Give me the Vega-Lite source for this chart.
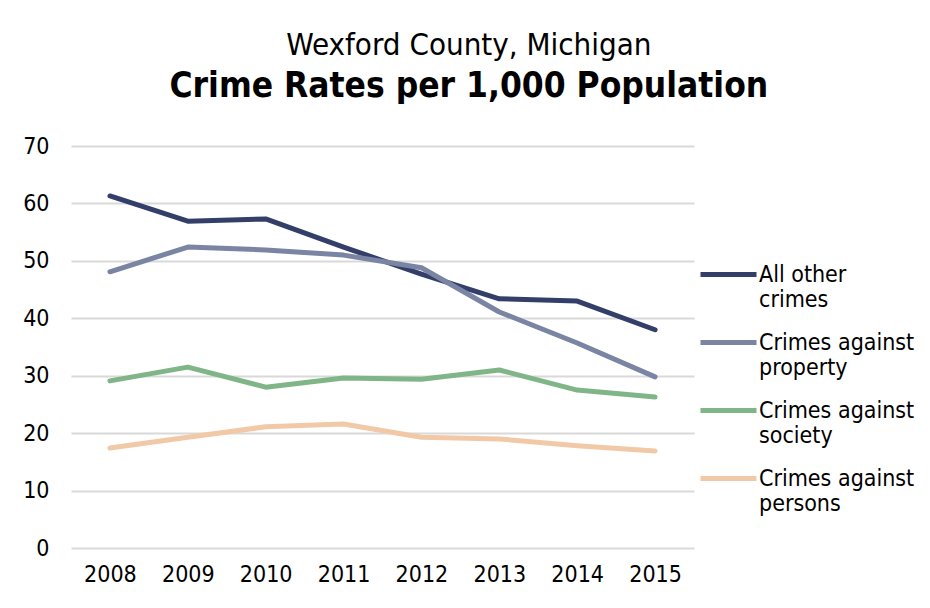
{
  "$schema": "https://vega.github.io/schema/vega-lite/v6.json",
  "width": 623,
  "height": 402,
  "padding": {"left": 22, "top": 30, "right": 10, "bottom": 10},
  "background": "white",
  "title": {
    "text": "Wexford County, Michigan",
    "subtitle": "Crime Rates per 1,000 Population",
    "font": "DejaVu Sans Condensed, DejaVu Sans",
    "fontSize": 31,
    "fontWeight": "normal",
    "color": "#000000",
    "subtitleFont": "DejaVu Sans Condensed, DejaVu Sans",
    "subtitleFontSize": 35,
    "subtitleFontWeight": "bold",
    "subtitleColor": "#000000",
    "subtitlePadding": 7,
    "offset": 30,
    "anchor": "middle",
    "frame": "bounds"
  },
  "config": {
    "view": {"stroke": null},
    "font": "DejaVu Sans Condensed, DejaVu Sans"
  },
  "data": {
    "values": [
      {"year": "2008", "series": "All other crimes", "rate": 61.3},
      {"year": "2009", "series": "All other crimes", "rate": 56.9},
      {"year": "2010", "series": "All other crimes", "rate": 57.3},
      {"year": "2011", "series": "All other crimes", "rate": 52.4},
      {"year": "2012", "series": "All other crimes", "rate": 47.7},
      {"year": "2013", "series": "All other crimes", "rate": 43.4},
      {"year": "2014", "series": "All other crimes", "rate": 43.0},
      {"year": "2015", "series": "All other crimes", "rate": 38.0},
      {"year": "2008", "series": "Crimes against property", "rate": 48.1},
      {"year": "2009", "series": "Crimes against property", "rate": 52.4},
      {"year": "2010", "series": "Crimes against property", "rate": 51.9},
      {"year": "2011", "series": "Crimes against property", "rate": 51.0},
      {"year": "2012", "series": "Crimes against property", "rate": 48.8},
      {"year": "2013", "series": "Crimes against property", "rate": 41.1},
      {"year": "2014", "series": "Crimes against property", "rate": 35.7},
      {"year": "2015", "series": "Crimes against property", "rate": 29.8},
      {"year": "2008", "series": "Crimes against society", "rate": 29.1},
      {"year": "2009", "series": "Crimes against society", "rate": 31.5},
      {"year": "2010", "series": "Crimes against society", "rate": 28.0},
      {"year": "2011", "series": "Crimes against society", "rate": 29.6},
      {"year": "2012", "series": "Crimes against society", "rate": 29.4},
      {"year": "2013", "series": "Crimes against society", "rate": 31.0},
      {"year": "2014", "series": "Crimes against society", "rate": 27.5},
      {"year": "2015", "series": "Crimes against society", "rate": 26.3},
      {"year": "2008", "series": "Crimes against persons", "rate": 17.4},
      {"year": "2009", "series": "Crimes against persons", "rate": 19.3},
      {"year": "2010", "series": "Crimes against persons", "rate": 21.1},
      {"year": "2011", "series": "Crimes against persons", "rate": 21.6},
      {"year": "2012", "series": "Crimes against persons", "rate": 19.3},
      {"year": "2013", "series": "Crimes against persons", "rate": 19.0},
      {"year": "2014", "series": "Crimes against persons", "rate": 17.8},
      {"year": "2015", "series": "Crimes against persons", "rate": 16.9}
    ]
  },
  "mark": {"type": "line", "strokeWidth": 5, "strokeCap": "round", "strokeJoin": "round"},
  "encoding": {
    "x": {
      "field": "year",
      "type": "ordinal",
      "scale": {"type": "point", "padding": 0.5},
      "axis": {
        "title": null,
        "labelAngle": 0,
        "labelFontSize": 23,
        "labelColor": "#000000",
        "labelPadding": 15,
        "ticks": false,
        "domain": false,
        "grid": false
      }
    },
    "y": {
      "field": "rate",
      "type": "quantitative",
      "scale": {"domain": [0, 70]},
      "axis": {
        "title": null,
        "values": [0, 10, 20, 30, 40, 50, 60, 70],
        "labelFontSize": 23,
        "labelColor": "#000000",
        "labelPadding": 22,
        "ticks": false,
        "domain": false,
        "grid": true,
        "gridColor": "#d9d9d9",
        "gridWidth": 2
      }
    },
    "color": {
      "field": "series",
      "type": "nominal",
      "sort": ["All other crimes", "Crimes against property", "Crimes against society", "Crimes against persons"],
      "scale": {
        "domain": ["All other crimes", "Crimes against property", "Crimes against society", "Crimes against persons"],
        "range": ["#333f68", "#7a84a3", "#80b588", "#f1c9a6"]
      },
      "legend": {
        "title": null,
        "orient": "none",
        "legendX": 627,
        "legendY": 98,
        "symbolType": "stroke",
        "symbolSize": 3136,
        "symbolStrokeWidth": 5,
        "labelFontSize": 23,
        "labelColor": "#000000",
        "labelOffset": 0,
        "labelLimit": 300,
        "rowPadding": 0,
        "labelExpr": "datum.label == 'All other crimes' ? ['All other', 'crimes'] : datum.label == 'Crimes against property' ? ['Crimes against', 'property'] : datum.label == 'Crimes against society' ? ['Crimes against', 'society'] : ['Crimes against', 'persons']"
      }
    }
  }
}
